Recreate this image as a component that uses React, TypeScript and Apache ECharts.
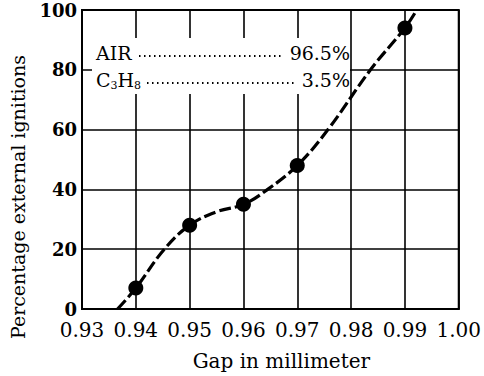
import React, { useEffect, useRef } from "react";
import * as echarts from "echarts";

const gapValues = [0.94, 0.95, 0.96, 0.97, 0.99];
const ignitionPct = [7, 28, 35, 48, 94];

// points
const curveGap = [0.9366, 0.94, 0.9453, 0.95, 0.955, 0.96, 0.9645, 0.97, 0.9757, 0.9836, 0.99, 0.9922];
const curvePct = [0, 7, 20, 28, 32.5, 35, 40, 48, 60, 80, 94, 100];

const yTicks = [0, 20, 40, 60, 80, 100];
const legendRows = [
  { gas: "AIR", value: "96.5%" },
  { gas: "C3H8", value: "3.5%" },
];
const yTitle = "Percentage external ignitions";
const xTitle = "Gap in millimeter";

const SERIF = "DejaVu Serif";

export default function App() {
  const ref = useRef<HTMLDivElement>(null);
  useEffect(() => {
    if (!ref.current) return;
    const chart = echarts.init(ref.current, null, { renderer: "svg" });
    const L = 82, R = 462, T = 10, B = 313;
    const graphics: any[] = [
      { type: "rect", z: 100, shape: { x: 92, y: 38, width: 258, height: 56 }, style: { fill: "#fff" } },
      {
        type: "text",
        z: 101,
        x: 18,
        y: 197,
        rotation: Math.PI / 2,
        style: { text: yTitle, fontFamily: SERIF, fontSize: 19, fill: "#000", align: "center", verticalAlign: "middle" },
      },
    ];
    legendRows.forEach((r, i) => {
      const y = 53 + i * 27;
      graphics.push(
        {
          type: "text",
          z: 101,
          x: 96,
          y,
          style: {
            text: r.gas === "C3H8" ? "{n|C}{s|3}{n|H}{s|8}" : "{n|" + r.gas + "}",
            rich: {
              n: { fontFamily: SERIF, fontSize: 19, fill: "#000" },
              s: { fontFamily: SERIF, fontSize: 11, fill: "#000", padding: [10, 0, 0, 0] },
            },
            verticalAlign: "middle",
          },
        },
        {
          type: "text",
          z: 101,
          x: 350,
          y,
          style: { text: r.value, fontFamily: SERIF, fontSize: 19, fill: "#000", align: "right", verticalAlign: "middle" },
        },
        {
          type: "line",
          z: 101,
          shape: { x1: r.gas === "AIR" ? 139 : 147, y1: y + 3, x2: r.gas === "AIR" ? 283 : 294, y2: y + 3 },
          style: { stroke: "#000", lineWidth: 2, lineDash: [1.5, 3.5] },
        }
      );
    });
    chart.setOption({
      animation: false,
      backgroundColor: "#fff",
      grid: { left: L, right: 484 - R, top: T, bottom: 376 - B, show: true, borderColor: "#000", borderWidth: 2 },
      xAxis: {
        type: "value",
        min: 0.93,
        max: 1.0,
        interval: 0.01,
        name: xTitle,
        nameLocation: "middle",
        nameGap: 42,
        nameTextStyle: { fontFamily: SERIF, fontSize: 20, color: "#000", padding: [0, 0, 0, 22] },
        axisLine: { show: true, lineStyle: { color: "#000", width: 2 } },
        axisTick: { show: false },
        splitLine: { show: true, lineStyle: { color: "#000", width: 1.6 } },
        axisLabel: {
          fontFamily: SERIF,
          fontSize: 20,
          lineHeight: 18,
          color: "#000",
          margin: 12,
          formatter: (v: number) => v.toFixed(2),
        },
      },
      yAxis: {
        type: "value",
        min: yTicks[0],
        max: yTicks[yTicks.length - 1],
        interval: 20,
        axisLine: { show: true, lineStyle: { color: "#000", width: 2 } },
        axisTick: { show: false },
        splitLine: { show: true, lineStyle: { color: "#000", width: 1.6 } },
        axisLabel: { fontFamily: SERIF, fontSize: 18, lineHeight: 16, fontWeight: "bold", color: "#000", margin: 5 },
      },
      graphic: graphics,
      series: [
        {
          type: "line",
          data: curveGap.map((g, i) => [g, curvePct[i]]),
          smooth: 0.4,
          showSymbol: false,
          symbol: "none",
          lineStyle: { color: "#000", width: 3.2, type: [12, 4] },
          z: 3,
        },
        {
          type: "scatter",
          data: gapValues.map((g, i) => [g, ignitionPct[i]]),
          symbol: "circle",
          symbolSize: 15,
          itemStyle: { color: "#000", opacity: 1 },
          z: 4,
        },
      ],
    });
    return () => chart.dispose();
  }, []);
  return <div ref={ref} style={{ width: 484, height: 376, position: "absolute", left: 0, top: 0 }} />;
}
